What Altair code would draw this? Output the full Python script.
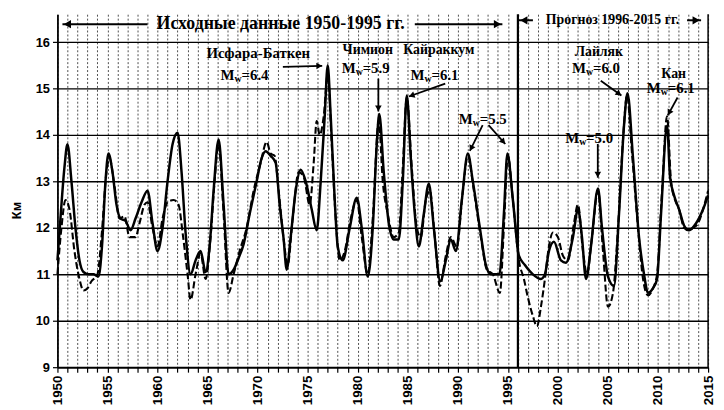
import math
import altair as alt
import pandas as pd

# ---------------- data ----------------
# solid series (years, km)
years_a = [1950.0, 1950.3, 1950.7, 1951.0, 1951.4, 1951.8, 1952.2, 1952.6, 1953.1, 1953.6,
           1954.1, 1954.45, 1954.8, 1955.1, 1955.5, 1955.9, 1956.3, 1956.8, 1957.3, 1957.8,
           1958.4, 1959.0, 1959.5, 1960.0, 1960.5, 1961.0, 1961.5, 1962.0, 1962.4, 1962.8,
           1963.3, 1963.8, 1964.3, 1964.8, 1965.2, 1965.6, 1966.1, 1966.6, 1967.1, 1967.6,
           1968.1, 1968.6, 1969.2, 1969.9, 1970.4, 1970.8, 1971.3, 1971.8, 1972.2, 1972.6,
           1972.9, 1973.3, 1973.8, 1974.3, 1974.8, 1975.4, 1975.9, 1976.3, 1976.7, 1977.0,
           1977.3, 1977.7, 1978.0, 1978.5, 1979.2, 1979.9, 1980.4, 1981.0, 1981.5, 1981.9,
           1982.15, 1982.6, 1983.1, 1983.6, 1984.1, 1984.5, 1984.9, 1985.3, 1985.7, 1986.1,
           1986.6, 1987.1, 1987.6, 1988.25, 1988.8, 1989.3, 1989.8, 1990.4, 1991.0, 1991.5,
           1992.2, 1992.8, 1993.3, 1994.15, 1994.6, 1994.95, 1995.5, 1996.1, 1996.7, 1997.5,
           1998.3, 1998.7, 1999.1, 1999.6, 2000.3, 2000.8, 2001.5, 2002.0, 2002.4, 2002.8,
           2003.3, 2004.0, 2004.4, 2005.0, 2005.6, 2006.1, 2006.6, 2006.95, 2007.5, 2008.1,
           2008.6, 2009.0, 2009.5, 2009.9, 2010.3, 2010.9, 2011.2, 2011.6, 2012.1, 2012.6,
           2013.1, 2013.8, 2014.5, 2015.0]
km_a = [11.3, 12.2, 13.3, 13.8, 13.0, 12.0, 11.3, 11.05, 11.0, 11.0,
        10.95, 11.6, 13.0, 13.6, 13.2, 12.5, 12.2, 12.15, 11.95, 12.2,
        12.55, 12.8, 12.1, 11.5, 12.0, 13.0, 13.8, 14.05, 13.2, 11.9,
        11.0, 11.3, 11.5, 11.05, 11.6, 12.8, 13.9, 12.5, 11.0, 11.1,
        11.35, 11.65, 12.3, 13.0, 13.5, 13.65, 13.55, 13.4, 12.5, 11.75,
        11.1, 11.8, 12.8, 13.25, 13.0, 12.4, 11.95, 13.0, 14.4, 15.5,
        14.4, 12.6, 11.6, 11.3, 12.0, 12.65, 12.0, 10.95, 12.0, 13.8,
        14.45, 13.2, 12.1, 11.75, 11.75, 13.0, 14.85, 13.5, 12.3, 11.6,
        12.3, 12.95, 12.0, 10.85, 11.3, 11.75, 11.5, 12.6, 13.6, 13.0,
        12.0, 11.2, 11.0, 11.0, 12.3, 13.6, 12.6, 11.4, 11.2, 11.0,
        10.9, 11.0, 11.5, 11.7, 11.3, 11.25, 11.8, 12.4, 11.8, 10.9,
        11.6, 12.85, 12.0, 10.95, 10.75, 12.3, 14.2, 14.9, 13.5, 11.8,
        11.0, 10.6, 10.7, 10.9, 12.3, 14.2, 13.1, 12.7, 12.4, 12.05,
        11.95, 12.1, 12.4, 12.7]

# dashed series (years, km)
years_b = [1950.0, 1950.4, 1950.8, 1951.2, 1951.7, 1952.2, 1952.6, 1953.0, 1953.4, 1954.0,
           1954.4, 1954.9, 1955.2, 1955.7, 1956.2, 1956.7, 1957.2, 1957.8, 1958.2, 1958.7,
           1959.0, 1959.5, 1960.0, 1960.5, 1961.0, 1961.6, 1962.1, 1962.5, 1963.0, 1963.3,
           1963.8, 1964.3, 1964.8, 1965.3, 1965.7, 1966.1, 1966.6, 1967.1, 1967.6, 1968.2,
           1968.9, 1969.6, 1970.3, 1970.9, 1971.3, 1971.7, 1972.1, 1972.6, 1973.0, 1973.5,
           1974.1, 1974.6, 1975.2, 1975.6, 1975.9, 1976.2, 1976.6, 1977.0, 1977.4, 1977.8,
           1978.2, 1978.7, 1979.3, 1979.9, 1980.4, 1981.0, 1981.5, 1982.1, 1982.5, 1983.0,
           1983.6, 1984.1, 1984.5, 1984.9, 1985.4, 1985.9, 1986.3, 1986.8, 1987.2, 1987.7,
           1988.2, 1988.8, 1989.3, 1989.9, 1990.5, 1991.0, 1991.6, 1992.3, 1992.9, 1993.5,
           1994.2, 1994.6, 1995.0, 1995.5, 1996.1, 1996.6, 1997.0, 1997.5, 1997.9, 1998.3,
           1998.7, 1999.1, 1999.5, 2000.0, 2000.5, 2001.0, 2001.6, 2002.0, 2002.5, 2002.9,
           2003.4, 2004.0, 2004.5, 2005.0, 2005.5, 2006.0, 2006.5, 2006.9, 2007.4, 2008.0,
           2008.5, 2009.0, 2009.5, 2009.9, 2010.4, 2010.9, 2011.3, 2011.7, 2012.1, 2012.6,
           2013.0, 2013.5, 2014.0, 2014.5, 2015.0]
km_b = [11.0, 12.0, 12.6, 12.4, 11.5, 10.9, 10.65, 10.7, 10.85, 11.0,
        11.8, 13.2, 13.5, 12.9, 12.2, 12.25, 11.8, 11.8, 12.1, 12.5,
        12.55, 12.0, 11.6, 12.2, 12.55, 12.6, 12.5, 11.9, 11.0, 10.45,
        11.0, 11.45, 10.9, 11.8, 13.0, 13.8, 12.3, 10.6, 11.0, 11.5,
        12.0, 12.8, 13.4, 13.85, 13.6, 13.55, 12.8, 11.75, 11.2, 12.2,
        13.2, 13.1, 12.5, 13.4, 14.3, 14.0, 14.4, 15.3, 13.8, 12.2,
        11.3, 11.5, 12.2, 12.6, 11.8, 11.0, 12.2, 14.3, 13.0, 12.3,
        11.8, 11.9, 13.3, 14.8, 13.3, 12.0, 11.8, 12.6, 12.8, 11.8,
        10.75, 11.4, 11.8, 11.6, 12.8, 13.55, 12.8, 11.8, 11.1, 11.0,
        10.6, 12.0, 13.55, 12.6, 11.3, 10.9, 10.5, 10.1, 9.88, 10.3,
        10.9, 11.6, 11.9, 11.8, 11.4, 11.3, 12.1, 12.5, 11.5, 11.0,
        11.8, 12.8, 11.5, 10.3, 10.6, 12.0, 13.9, 14.85, 13.6, 12.0,
        10.9, 10.55, 10.7, 11.0, 12.8, 14.4, 13.0, 12.6, 12.4, 12.0,
        11.95, 12.0, 12.1, 12.4, 12.8]

x_ticks = list(range(1950, 2016))
y_ticks = list(range(9, 17))

# period separators
period_lines = [1996, 2015]
period_widths = [2.2, 1.5]

# top band captions
band_text = ["Исходные данные 1950-1995 гг.", "Прогноз 1996-2015 гг."]
band_x = [1972.3, 2005.45]
band_y = [16.384, 16.469]
band_size = [18, 14]

# top band arrows: tail x -> head x
band_arrow_x0 = [1959.0, 1985.7, 1997.5, 2012.9]
band_arrow_x1 = [1950.5, 1994.45, 1996.1, 2014.3]
band_arrow_y = [16.384, 16.384, 16.469, 16.469]

# earthquake names
eq_names = ["Исфара-Баткен", "Чимион", "Кайраккум", "Лайляк", "Кан"]
eq_name_x = [1970.06, 1981.0, 1988.1, 2004.09, 2011.56]
eq_name_y = [15.77, 15.83, 15.83, 15.79, 15.32]
eq_name_size = [15, 14, 14, 14, 14]

# magnitude labels: x is where the "M" ends
mw_text = ["=6.4", "=5.9", "=6.1", "=5.5", "=6.0", "=6.1", "=5.0"]
mw_x = [1967.7, 1979.8, 1986.68, 1991.5, 2002.81, 2010.28, 2002.12]
mw_y = [15.30, 15.45, 15.30, 14.34, 15.43, 15.00, 13.93]

# annotation arrows
arr_x0 = [1972.52, 1982.06, 1988.74, 1992.48, 1993.07, 2004.28, 2003.98, 2011.95]
arr_y0 = [15.467, 15.212, 15.105, 14.21, 14.21, 15.169, 13.805, 14.807]
arr_x1 = [1976.45, 1982.06, 1985.10, 1991.20, 1994.74, 2006.34, 2003.98, 2010.97]
arr_y1 = [15.489, 14.508, 14.828, 13.656, 13.805, 14.849, 13.081, 14.423]

# ---------------- layout ----------------
W, H = 658, 357
X_DOM = [1950, 2015]
Y_DOM = [9, 16.6]
PX_X = W / (X_DOM[1] - X_DOM[0])
PX_Y = H / (Y_DOM[1] - Y_DOM[0])

SERIF = "Liberation Serif"
SANS = "Liberation Sans"

xs = alt.Scale(domain=X_DOM, nice=False, zero=False)
ys = alt.Scale(domain=Y_DOM, nice=False, zero=False)

x_axis = alt.Axis(
    values=x_ticks, format="d", title=None,
    labelExpr="datum.value % 5 === 0 ? datum.label : ''",
    labelAngle=270, labelAlign="right", labelBaseline="middle",
    labelFont=SANS, labelFontWeight="bold", labelFontSize=13.5, labelColor="black",
    labelPadding=3, tickSize=5, tickColor="black", tickWidth=1.2,
    domainColor="black", domainWidth=1.8, labelOverlap=False,
    grid=True, gridColor="#222222", gridDash=[2, 2], gridWidth=0.8,
)
y_axis = alt.Axis(
    values=y_ticks, format="d", title="Км",
    titleFont=SANS, titleFontWeight="bold", titleFontSize=13, titleColor="black",
    titleAngle=270, titleX=-41, titleY=198, titleAlign="center", titleBaseline="middle",
    labelFont=SANS, labelFontWeight="bold", labelFontSize=13, labelColor="black",
    labelPadding=3, tickSize=5, tickColor="black", tickWidth=1.2,
    domainColor="black", domainWidth=1.8,
    grid=True, gridColor="black", gridWidth=1.4,
)

X = lambda f="x": alt.X(f"{f}:Q", scale=xs, axis=x_axis, title=None)
Y = lambda f="y": alt.Y(f"{f}:Q", scale=ys, axis=y_axis, title="Км")


def heads(x0, y0, x1, y1, back=3.0):
    rows = []
    for a, b, c, d in zip(x0, y0, x1, y1):
        dx = (c - a) * PX_X
        dy = -(d - b) * PX_Y
        ang = math.degrees(math.atan2(dx, -dy)) % 360
        L = math.hypot(dx, dy) or 1
        hx = c - (dx / L) * back / PX_X
        hy = d + (dy / L) * back / PX_Y
        rows.append({"x": hx, "y": hy, "angle": ang})
    return pd.DataFrame(rows)


df_a = pd.DataFrame({"x": years_a, "y": km_a})
df_b = pd.DataFrame({"x": years_b, "y": km_b})

line_a = alt.Chart(df_a).mark_line(color="black", strokeWidth=2.5, interpolate="monotone").encode(
    x=X(), y=Y())
line_b = alt.Chart(df_b).mark_line(color="black", strokeWidth=2.1, strokeDash=[7, 3],
                                   interpolate="monotone").encode(x=X(), y=Y())

df_sep = pd.DataFrame({"x": period_lines, "w": period_widths})
sep = alt.Chart(df_sep).mark_rule(color="black").encode(
    x=X(),
    strokeWidth=alt.StrokeWidth("w:Q", scale=None, legend=None),
)

df_band = pd.DataFrame({"t": band_text, "x": band_x, "y": band_y, "s": band_size})
band_txt = alt.Chart(df_band).mark_text(font=SERIF, fontWeight="bold", color="black",
                                        align="center", baseline="middle").encode(
    x=X(), y=Y(), text="t:N",
    size=alt.Size("s:Q", scale=None, legend=None),
)

df_barr = pd.DataFrame({"x": band_arrow_x0, "x2": band_arrow_x1, "y": band_arrow_y})
band_lines = alt.Chart(df_barr).mark_rule(color="black", strokeWidth=2).encode(
    x=X(), x2="x2:Q", y=Y())
df_bh = heads(band_arrow_x0, band_arrow_y, band_arrow_x1, band_arrow_y, back=5)
band_heads = alt.Chart(df_bh).mark_point(shape="triangle-up", filled=True, color="black",
                                         size=70, opacity=1).encode(
    x=X(), y=Y(), angle=alt.Angle("angle:Q", scale=None))

df_names = pd.DataFrame({"t": eq_names, "x": eq_name_x, "y": eq_name_y, "s": eq_name_size})
names = alt.Chart(df_names).mark_text(font=SERIF, fontWeight="bold", color="black",
                                      align="center", baseline="middle").encode(
    x=X(), y=Y(), text="t:N",
    size=alt.Size("s:Q", scale=None, legend=None))

df_mw = pd.DataFrame({"t": mw_text, "x": mw_x, "y": mw_y})
mw_base = alt.Chart(df_mw).encode(x=X(), y=Y())
mw_M = mw_base.mark_text(font=SERIF, fontWeight="bold", fontSize=15, color="black",
                         align="right", baseline="middle").encode(text=alt.value("M"))
mw_w = mw_base.mark_text(font=SERIF, fontWeight="bold", fontSize=10, color="black",
                         align="left", baseline="middle", dy=4).encode(text=alt.value("w"))
mw_v = mw_base.mark_text(font=SERIF, fontWeight="bold", fontSize=15, color="black",
                         align="left", baseline="middle", dx=7).encode(text="t:N")

df_arr = pd.DataFrame({"x": arr_x0, "y": arr_y0, "x2": arr_x1, "y2": arr_y1})
arr_lines = alt.Chart(df_arr).mark_rule(color="black", strokeWidth=1.8).encode(
    x=X(), x2="x2:Q", y=Y(), y2="y2:Q")
df_ah = heads(arr_x0, arr_y0, arr_x1, arr_y1, back=3)
arr_heads = alt.Chart(df_ah).mark_point(shape="triangle-up", filled=True, color="black",
                                        size=45, opacity=1).encode(
    x=X(), y=Y(), angle=alt.Angle("angle:Q", scale=None))

chart = alt.layer(
    line_a, line_b, sep, band_lines, band_heads, band_txt,
    names, mw_M, mw_w, mw_v, arr_lines, arr_heads,
).properties(
    width=W, height=H,
    padding={"left": 50, "top": 4, "right": 8, "bottom": 40},
    autosize=alt.AutoSizeParams(type="none"),
    background="white",
).configure_view(stroke=None)

chart.save("out.html", embed_options={"renderer": "svg", "actions": False})
